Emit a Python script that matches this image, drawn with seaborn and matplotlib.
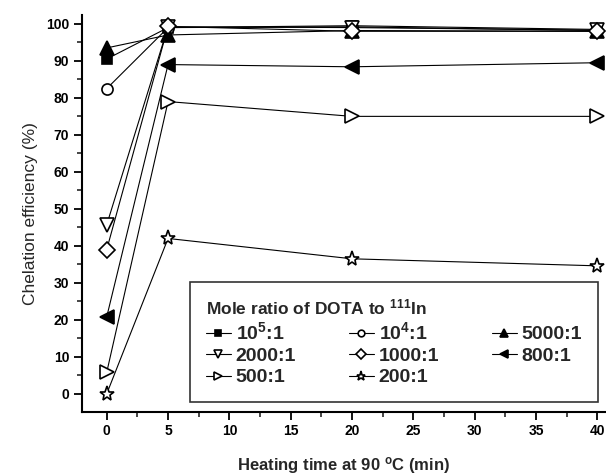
import matplotlib
matplotlib.use("Agg")
import matplotlib.pyplot as plt
import seaborn as sns
import pandas as pd
from matplotlib.ticker import MultipleLocator

sns.set_theme(style="ticks")
plt.rcParams['font.family'] = ['Liberation Sans', 'DejaVu Sans']
plt.rcParams['mathtext.fontset'] = 'custom'
plt.rcParams['mathtext.rm'] = 'Liberation Sans'
plt.rcParams['mathtext.it'] = 'Liberation Sans'
plt.rcParams['mathtext.bf'] = 'Liberation Sans:bold'
plt.rcParams['mathtext.default'] = 'regular'

time_min = [0, 5, 20, 40]
labels = ["10$^5$:1", "10$^4$:1", "5000:1", "2000:1", "1000:1", "800:1", "500:1", "200:1"]
r_1e5 = [90.5, 99.0, 99.5, 98.5]
r_1e4 = [82.5, 99.0, 99.2, 98.2]
r_5000 = [93.5, 97.0, 98.2, 98.0]
r_2000 = [45.7, 99.2, 99.0, 98.3]
r_1000 = [39.0, 99.3, 98.0, 98.0]
r_800 = [20.8, 89.0, 88.4, 89.5]
r_500 = [5.8, 79.0, 75.0, 75.0]
r_200 = [0.0, 42.0, 36.5, 34.6]
series = [r_1e5, r_1e4, r_5000, r_2000, r_1000, r_800, r_500, r_200]

markers = ['s', 'o', '^', 'v', 'D', '<', '>', '*']
filled = [True, False, True, False, False, True, False, False]
msizes = [7, 8, 10, 10, 8, 10, 10, 11]

rows = []
for lab, vals in zip(labels, series):
    for t, v in zip(time_min, vals):
        rows.append({"time": t, "eff": v, "ratio": lab})
df = pd.DataFrame(rows)

fig = plt.figure(figsize=(6.06, 4.76), dpi=100)
ax = fig.add_axes([0.1348, 0.1345, 0.8652, 0.834])

for lab, m, f, ms in zip(labels, markers, filled, msizes):
    sub = df[df["ratio"] == lab]
    sns.lineplot(data=sub, x="time", y="eff", ax=ax, color="black", linewidth=0.8,
                 marker=m, markersize=ms, markerfacecolor=("black" if f else "white"),
                 markeredgecolor="black", markeredgewidth=1.2, label=lab, legend=False)

ax.set_xlim(-2.04, 40.7)
ax.set_ylim(-4.9, 102.4)
ax.xaxis.set_major_locator(MultipleLocator(5))
ax.xaxis.set_minor_locator(MultipleLocator(2.5))
ax.yaxis.set_major_locator(MultipleLocator(10))
ax.yaxis.set_minor_locator(MultipleLocator(5))
ax.tick_params(axis='both', which='major', direction='out', length=6, width=1.3,
               labelsize=10, colors='black', pad=3)
ax.tick_params(axis='both', which='minor', direction='out', length=3.5, width=1.2)
for lbl in ax.get_xticklabels() + ax.get_yticklabels():
    lbl.set_fontweight('bold')
for s in ['top', 'right']:
    ax.spines[s].set_visible(False)
for s in ['left', 'bottom']:
    ax.spines[s].set_linewidth(1.5)
    ax.spines[s].set_color('black')

ax.set_xlabel("Heating time at 90 $^{o}$C (min)", fontsize=12, fontweight='bold', labelpad=12)
ax.set_ylabel("Chelation efficiency (%)", fontsize=12.5, labelpad=6)

handles, hl = ax.get_legend_handles_labels()
order = [0, 3, 6, 1, 4, 7, 2, 5]
handles = [handles[i] for i in order]
hl = [hl[i] for i in order]
leg = ax.legend(handles, hl, ncol=3, loc='lower left',
                bbox_to_anchor=(0.2066, 0.025, 0.778, 0.307), mode='expand',
                borderaxespad=0.0,
                title="Mole ratio of DOTA to $^{111}$In",
                title_fontproperties={'size': 12.5, 'weight': 'bold'},
                prop={'size': 14, 'weight': 'bold'}, frameon=True, fancybox=False,
                edgecolor='black', handlelength=1.3, handletextpad=0.25, columnspacing=1.0,
                labelspacing=0.2, borderpad=0.8, markerscale=0.6)
leg._legend_box.align = "left"
leg.get_frame().set_linewidth(1.2)

fig.savefig("out.png", dpi=100)
